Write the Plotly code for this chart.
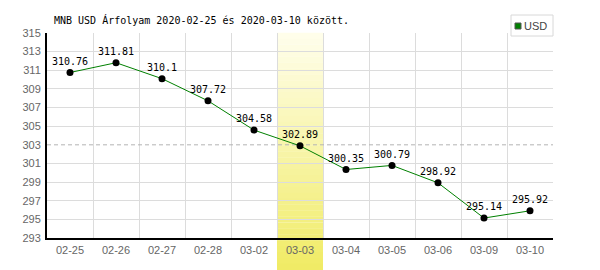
import plotly.graph_objects as go

dates = ["02-25", "02-26", "02-27", "02-28", "03-02", "03-03", "03-04", "03-05", "03-06", "03-09", "03-10"]
usd = [310.76, 311.81, 310.1, 307.72, 304.58, 302.89, 300.35, 300.79, 298.92, 295.14, 295.92]
labels = ["310.76", "311.81", "310.1", "307.72", "304.58", "302.89", "300.35", "300.79", "298.92", "295.14", "295.92"]
yticks = [293, 295, 297, 299, 301, 303, 305, 307, 309, 311, 313, 315]
ref_level = 303
highlight_index = 5
title = "MNB USD Árfolyam 2020-02-25 és 2020-03-10 között."
series_name = "USD"

W, H = 600, 270
L, R, T, B = 47, 47, 33, 32
PW = W - L - R
PH = H - T - B

def px_x(px):
    return (px - L) / PW

def px_y(py):
    return (H - B - py) / PH

xpos = [i + 0.5 for i in range(len(dates))]

fig = go.Figure()
fig.add_trace(go.Scatter(
    x=xpos, y=usd, mode="lines+markers+text",
    text=labels, textposition="top center",
    textfont=dict(family="DejaVu Sans Mono", size=10, color="#000000"),
    line=dict(color="#008000", width=1),
    marker=dict(color="#000000", size=7),
    cliponaxis=False, showlegend=False,
))

shapes = []
# dashed reference line
shapes.append(dict(type="line", xref="x", yref="y", x0=0, x1=len(dates), y0=ref_level, y1=ref_level,
                   line=dict(color="#b4b4b4", width=1, dash="4px,3px"), layer="between"))
# gradient highlight band
top_c = (255, 254, 236)
bot_c = (240, 235, 100)
n = 40
y_top_px, y_bot_px = T, H
for k in range(n):
    a = y_top_px + (y_bot_px - y_top_px) * k / n
    b = y_top_px + (y_bot_px - y_top_px) * (k + 1) / n
    t = (k + 0.5) / n
    c = tuple(round(top_c[j] + (bot_c[j] - top_c[j]) * t) for j in range(3))
    shapes.append(dict(type="rect", xref="x", yref="paper",
                       x0=highlight_index, x1=highlight_index + 1,
                       y0=px_y(b), y1=px_y(a) + 0.001,
                       fillcolor="rgb(%d,%d,%d)" % c, line=dict(width=0), layer="between"))
# legend box
shapes.append(dict(type="rect", xref="paper", yref="paper",
                   x0=px_x(511), x1=px_x(553), y0=px_y(36), y1=px_y(15),
                   fillcolor="#ffffff", line=dict(color="#d8d8d8", width=1), layer="above"))
shapes.append(dict(type="rect", xref="paper", yref="paper",
                   x0=px_x(515), x1=px_x(521), y0=px_y(29), y1=px_y(23),
                   fillcolor="#008000", line=dict(color="#555555", width=1), layer="above"))

annotations = [
    dict(text=title, xref="paper", yref="paper", x=px_x(52), y=px_y(20),
         xanchor="left", yanchor="middle", showarrow=False,
         font=dict(family="DejaVu Sans Mono", size=10, color="#000000")),
    dict(text=series_name, xref="paper", yref="paper", x=px_x(522), y=px_y(26),
         xanchor="left", yanchor="middle", showarrow=False,
         font=dict(family="Liberation Sans", size=11, color="#444444")),
]

fig.update_layout(
    width=W, height=H,
    margin=dict(l=L, r=R, t=T, b=B, pad=0),
    paper_bgcolor="#ffffff", plot_bgcolor="#ffffff",
    shapes=shapes, annotations=annotations,
    showlegend=False,
    xaxis=dict(
        range=[0, len(dates)], tickmode="array", tickvals=xpos, ticktext=dates,
        showgrid=False, zeroline=False,
        showline=True, linecolor="#000000", linewidth=2,
        ticks="", ticklabelstandoff=1,
        tickfont=dict(family="Liberation Sans", size=11, color="#666666"),
        minor=dict(tickmode="array", tickvals=list(range(1, len(dates) + 1)),
                   showgrid=True, gridcolor="#dcdcdc", gridwidth=1, ticks=""),
        fixedrange=True,
    ),
    yaxis=dict(
        range=[yticks[0], yticks[-1]], tickmode="array", tickvals=yticks,
        ticktext=[str(v) for v in yticks],
        showgrid=False, zeroline=False,
        showline=True, linecolor="#000000", linewidth=2,
        ticks="", ticklabelstandoff=2,
        tickfont=dict(family="Liberation Sans", size=11, color="#666666"),
        minor=dict(tickmode="array", tickvals=[v for v in yticks if v != ref_level],
                   showgrid=True, gridcolor="#dcdcdc", gridwidth=1, ticks=""),
        fixedrange=True,
    ),
)

fig.write_html("out.html", config={"displayModeBar": False})
